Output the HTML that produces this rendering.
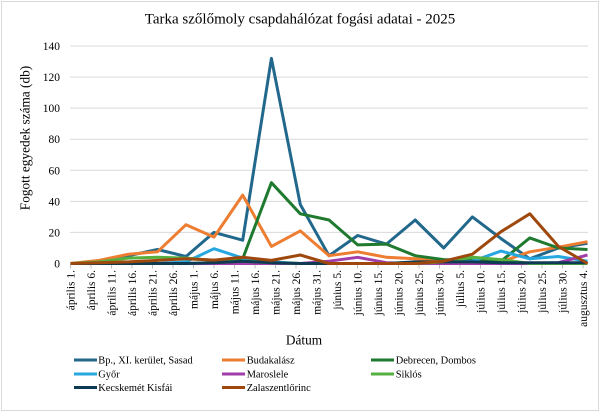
<!DOCTYPE html>
<html>
<head>
<meta charset="utf-8">
<style>
html,body{margin:0;padding:0;background:#fff;}
svg{display:block;font-family:"Liberation Serif","DejaVu Serif",serif;}
svg text{font-family:"Liberation Serif","DejaVu Serif",serif;fill:#000;}
</style>
</head>
<body>
<svg width="600" height="412" viewBox="0 0 600 412" xmlns="http://www.w3.org/2000/svg" font-family="Liberation Serif, DejaVu Serif, serif">
<rect x="0" y="0" width="600" height="412" fill="#fff"/>
<rect x="1.5" y="1.5" width="597" height="409" fill="none" stroke="#d9d9d9" stroke-width="1"/>

<text x="300" y="23.5" font-size="15" text-anchor="middle" font-family="Liberation Serif, serif">Tarka szőlőmoly csapdahálózat fogási adatai - 2025</text>

<g stroke="#d9d9d9" stroke-width="1">
<line x1="70" y1="46" x2="588" y2="46"/>
<line x1="70" y1="77.1" x2="588" y2="77.1"/>
<line x1="70" y1="108.1" x2="588" y2="108.1"/>
<line x1="70" y1="139.2" x2="588" y2="139.2"/>
<line x1="70" y1="170.3" x2="588" y2="170.3"/>
<line x1="70" y1="201.4" x2="588" y2="201.4"/>
<line x1="70" y1="232.4" x2="588" y2="232.4"/>
</g>
<line x1="70" y1="263.5" x2="588" y2="263.5" stroke="#bfbfbf" stroke-width="1"/>

<g stroke="#bfbfbf" stroke-width="1">
<line x1="70.5" y1="263.5" x2="70.5" y2="268.5"/>
<line x1="91" y1="263.5" x2="91" y2="268.5"/>
<line x1="111.5" y1="263.5" x2="111.5" y2="268.5"/>
<line x1="132" y1="263.5" x2="132" y2="268.5"/>
<line x1="152.5" y1="263.5" x2="152.5" y2="268.5"/>
<line x1="173" y1="263.5" x2="173" y2="268.5"/>
<line x1="193.5" y1="263.5" x2="193.5" y2="268.5"/>
<line x1="214" y1="263.5" x2="214" y2="268.5"/>
<line x1="234.5" y1="263.5" x2="234.5" y2="268.5"/>
<line x1="255" y1="263.5" x2="255" y2="268.5"/>
<line x1="275.5" y1="263.5" x2="275.5" y2="268.5"/>
<line x1="296" y1="263.5" x2="296" y2="268.5"/>
<line x1="316.5" y1="263.5" x2="316.5" y2="268.5"/>
<line x1="337" y1="263.5" x2="337" y2="268.5"/>
<line x1="357.5" y1="263.5" x2="357.5" y2="268.5"/>
<line x1="378" y1="263.5" x2="378" y2="268.5"/>
<line x1="398.5" y1="263.5" x2="398.5" y2="268.5"/>
<line x1="419" y1="263.5" x2="419" y2="268.5"/>
<line x1="439.5" y1="263.5" x2="439.5" y2="268.5"/>
<line x1="460" y1="263.5" x2="460" y2="268.5"/>
<line x1="480.5" y1="263.5" x2="480.5" y2="268.5"/>
<line x1="501" y1="263.5" x2="501" y2="268.5"/>
<line x1="521.5" y1="263.5" x2="521.5" y2="268.5"/>
<line x1="542" y1="263.5" x2="542" y2="268.5"/>
<line x1="562.5" y1="263.5" x2="562.5" y2="268.5"/>
<line x1="583" y1="263.5" x2="583" y2="268.5"/>
</g>

<g font-size="11.5" text-anchor="end" font-family="Liberation Serif, serif">
<text x="60" y="50">140</text>
<text x="60" y="81.1">120</text>
<text x="60" y="112.1">100</text>
<text x="60" y="143.2">80</text>
<text x="60" y="174.3">60</text>
<text x="60" y="205.4">40</text>
<text x="60" y="236.4">20</text>
<text x="60" y="267.5">0</text>
</g>

<text transform="translate(25,138) rotate(-90)" font-size="13.3" text-anchor="middle" dy="0.35em" font-family="Liberation Serif, serif">Fogott egyedek száma (db)</text>

<g font-size="11.5" text-anchor="end" font-family="Liberation Serif, serif">
<text transform="translate(70.5,270) rotate(-90)" dy="0.35em">április 1.</text>
<text transform="translate(91,270) rotate(-90)" dy="0.35em">április 6.</text>
<text transform="translate(111.5,270) rotate(-90)" dy="0.35em">április 11.</text>
<text transform="translate(132,270) rotate(-90)" dy="0.35em">április 16.</text>
<text transform="translate(152.5,270) rotate(-90)" dy="0.35em">április 21.</text>
<text transform="translate(173,270) rotate(-90)" dy="0.35em">április 26.</text>
<text transform="translate(193.5,270) rotate(-90)" dy="0.35em">május 1.</text>
<text transform="translate(214,270) rotate(-90)" dy="0.35em">május 6.</text>
<text transform="translate(234.5,270) rotate(-90)" dy="0.35em">május 11.</text>
<text transform="translate(255,270) rotate(-90)" dy="0.35em">május 16.</text>
<text transform="translate(275.5,270) rotate(-90)" dy="0.35em">május 21.</text>
<text transform="translate(296,270) rotate(-90)" dy="0.35em">május 26.</text>
<text transform="translate(316.5,270) rotate(-90)" dy="0.35em">május 31.</text>
<text transform="translate(337,270) rotate(-90)" dy="0.35em">június 5.</text>
<text transform="translate(357.5,270) rotate(-90)" dy="0.35em">június 10.</text>
<text transform="translate(378,270) rotate(-90)" dy="0.35em">június 15.</text>
<text transform="translate(398.5,270) rotate(-90)" dy="0.35em">június 20.</text>
<text transform="translate(419,270) rotate(-90)" dy="0.35em">június 25.</text>
<text transform="translate(439.5,270) rotate(-90)" dy="0.35em">június 30.</text>
<text transform="translate(460,270) rotate(-90)" dy="0.35em">július 5.</text>
<text transform="translate(480.5,270) rotate(-90)" dy="0.35em">július 10.</text>
<text transform="translate(501,270) rotate(-90)" dy="0.35em">július 15.</text>
<text transform="translate(521.5,270) rotate(-90)" dy="0.35em">július 20.</text>
<text transform="translate(542,270) rotate(-90)" dy="0.35em">július 25.</text>
<text transform="translate(562.5,270) rotate(-90)" dy="0.35em">július 30.</text>
<text transform="translate(583,270) rotate(-90)" dy="0.35em">augusztus 4.</text>
</g>

<text x="304" y="344.5" font-size="13.3" text-anchor="middle" font-family="Liberation Serif, serif">Dátum</text>

<g fill="none" stroke-width="3" stroke-linejoin="round" stroke-linecap="butt">
<polyline stroke="#22688C" points="70.5,263.5 99.2,261.9 128.5,255.7 157.5,249.5 186,256.5 214,232.4 242.7,240.2 271.4,58.4 300.3,204.5 329,255.7 357.7,235.5 386.4,244.1 415.2,220.0 443.7,248.0 472.4,216.9 501,238.6 529.8,258.8 558.4,248.0 587.5,243.3"/>
<polyline stroke="#ED7D31" points="70.5,263.5 99.2,260.4 128.5,254.2 157.5,251.8 186,224.7 214,237.1 242.7,195.1 271.4,246.4 300.3,230.9 329,255.7 357.7,251.8 386.4,257.3 415.2,258.8 443.7,260.4 472.4,261.9 501,261.9 529.8,251.8 558.4,247.2 587.5,241.7"/>
<polyline stroke="#1F7A30" points="70.5,263.5 99.2,263.5 128.5,263.5 157.5,263.5 186,263.5 214,262.7 242.7,258.8 271.4,182.7 300.3,213.8 329,220.0 357.7,244.9 386.4,244.1 415.2,255.7 443.7,259.6 472.4,260.4 501,261.2 529.8,237.9 558.4,248.0 587.5,249.5"/>
<polyline stroke="#26A7DF" points="70.5,263.5 99.2,263.5 128.5,263.5 157.5,263.5 186,261.9 214,248.7 242.7,258.1 271.4,261.9 300.3,263.5 329,263.5 357.7,263.5 386.4,263.5 415.2,263.5 443.7,262.7 472.4,261.2 501,251.1 529.8,258.8 558.4,256.5 587.5,261.2"/>
<polyline stroke="#A13DA8" points="70.5,263.5 99.2,263.5 128.5,263.5 157.5,263.5 186,263.5 214,263.5 242.7,263.5 271.4,263.5 300.3,263.5 329,261.2 357.7,257.3 386.4,262.7 415.2,263.5 443.7,263.5 472.4,263.5 501,263.5 529.8,263.5 558.4,262.7 587.5,255.0"/>
<polyline stroke="#55B040" points="70.5,263.5 99.2,261.9 128.5,258.1 157.5,257.3 186,258.1 214,260.4 242.7,261.2 271.4,262.7 300.3,263.5 329,263.5 357.7,263.5 386.4,263.5 415.2,263.5 443.7,261.9 472.4,257.3 501,259.6 529.8,263.5 558.4,263.5 587.5,263.5"/>
<polyline stroke="#0E3B53" points="70.5,263.5 99.2,263.5 128.5,263.5 157.5,263.5 186,263.5 214,262.7 242.7,261.2 271.4,262.7 300.3,263.5 329,263.5 357.7,263.5 386.4,263.5 415.2,261.9 443.7,261.9 472.4,261.9 501,262.7 529.8,262.7 558.4,262.7 587.5,262.7"/>
<polyline stroke="#9E480E" points="70.5,263.5 99.2,262.7 128.5,261.9 157.5,260.4 186,258.8 214,260.1 242.7,257.3 271.4,260.4 300.3,255.0 329,263.5 357.7,263.5 386.4,263.5 415.2,263.5 443.7,261.2 472.4,254.2 501,231.7 529.8,213.8 558.4,246.4 587.5,263.5"/>
</g>

<g stroke-width="3">
<line x1="74" y1="360" x2="97" y2="360" stroke="#22688C"/>
<line x1="222" y1="360" x2="245" y2="360" stroke="#ED7D31"/>
<line x1="371" y1="360" x2="394" y2="360" stroke="#1F7A30"/>
<line x1="74" y1="374" x2="97" y2="374" stroke="#26A7DF"/>
<line x1="222" y1="374" x2="245" y2="374" stroke="#A13DA8"/>
<line x1="371" y1="374" x2="394" y2="374" stroke="#55B040"/>
<line x1="74" y1="387.5" x2="97" y2="387.5" stroke="#0E3B53"/>
<line x1="222" y1="387.5" x2="245" y2="387.5" stroke="#9E480E"/>
</g>
<g font-size="10.4" font-family="Liberation Serif, serif">
<text x="98.3" y="363.7">Bp., XI. kerület, Sasad</text>
<text x="246.7" y="363.7">Budakalász</text>
<text x="395.7" y="363.7">Debrecen, Dombos</text>
<text x="98.3" y="377.7">Győr</text>
<text x="246.7" y="377.7">Maroslele</text>
<text x="395.7" y="377.7">Siklós</text>
<text x="98.3" y="391.2">Kecskemét Kisfái</text>
<text x="246.7" y="391.2">Zalaszentlőrinc</text>
</g>
</svg>
</body>
</html>
